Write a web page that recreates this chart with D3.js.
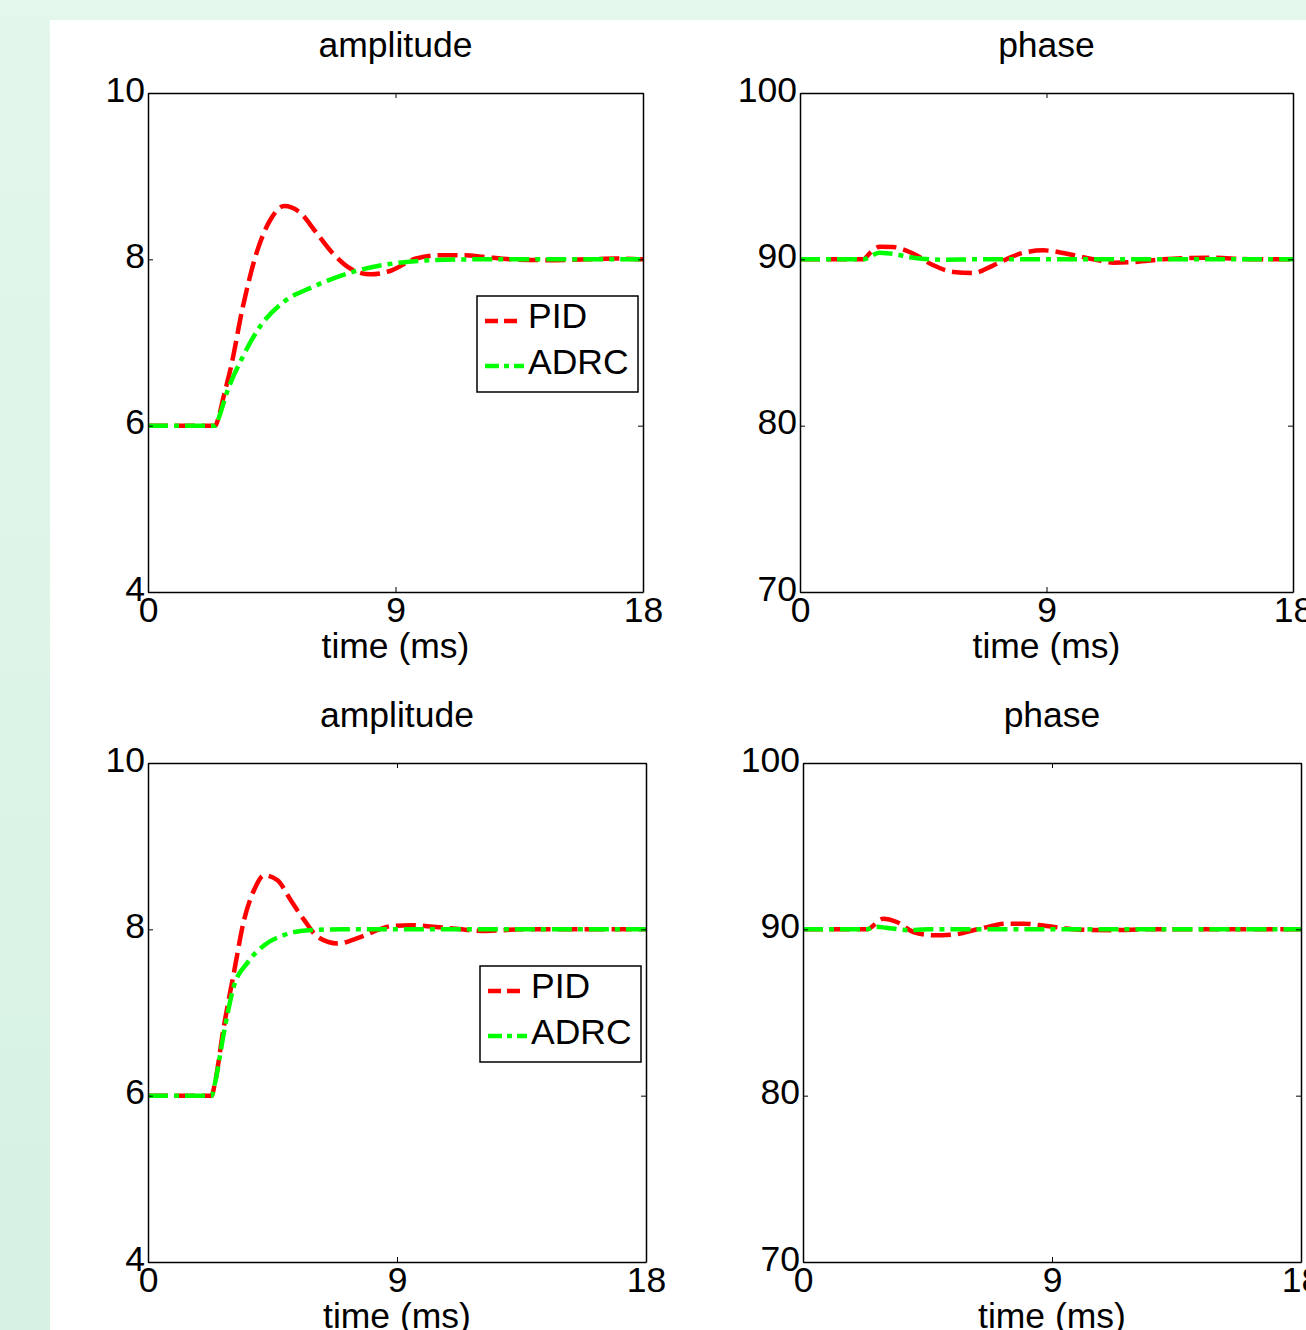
<!DOCTYPE html>
<html>
<head>
<meta charset="utf-8">
<script src="https://cdn.jsdelivr.net/npm/d3@7"></script>
<style>
  body { margin: 0; padding: 0; overflow: hidden; }
  svg { display: block; font-family: "Liberation Sans", Arial, Helvetica, sans-serif; }
</style>
</head>
<body>
<svg width="1306" height="1330"></svg>
<script>
// time samples (ms) and values
var ampTimeTop   = [0, 2.45, 2.55, 2.75, 3.0, 3.45, 3.95, 4.44, 4.95, 5.5, 6.1, 6.7, 7.4, 8.1, 8.8, 9.75, 10.7, 11.5, 12.2, 13.2, 14.5, 16, 17, 18];
var ampPidTop    = [6, 6, 6.08, 6.35, 6.68, 7.43, 8.08, 8.47, 8.64, 8.57, 8.33, 8.08, 7.88, 7.82, 7.86, 8.01, 8.05, 8.05, 8.03, 8.0, 7.99, 8.0, 8.01, 8.0];
var ampTimeTopA  = [0, 2.45, 2.6, 2.86, 3.45, 4.07, 4.9, 6.0, 7.45, 9.15, 10.4, 12, 18];
var ampAdrcTop   = [6, 6, 6.12, 6.39, 6.83, 7.19, 7.48, 7.67, 7.85, 7.96, 7.99, 8.0, 8.0];

var phTimeTop    = [0, 2.3, 2.6, 2.92, 3.4, 4.14, 4.87, 5.6, 6.33, 7.06, 8.03, 8.88, 9.74, 10.6, 11.44, 12.2, 13.26, 14.85, 16.6, 18];
var phPidTop     = [90, 90, 90.45, 90.76, 90.74, 90.34, 89.64, 89.24, 89.18, 89.64, 90.34, 90.54, 90.34, 90.04, 89.8, 89.84, 90.0, 90.1, 90.0, 90];
var phTimeTopA   = [0, 2.3, 2.9, 3.3, 4.14, 5.1, 6.5, 18];
var phAdrcTop    = [90, 90, 90.4, 90.35, 90.1, 89.98, 90, 90];

var ampTimeBot   = [0, 2.3, 2.4, 2.74, 3.1, 3.47, 3.83, 4.2, 4.68, 5.16, 5.65, 6.13, 6.86, 7.7, 8.8, 9.5, 10.7, 12.2, 13.5, 18];
var ampPidBot    = [6, 6, 6.12, 6.83, 7.47, 8.11, 8.47, 8.65, 8.59, 8.35, 8.11, 7.91, 7.83, 7.91, 8.04, 8.05, 8.02, 7.98, 8.0, 8.0];
var ampTimeBotA  = [0, 2.3, 2.42, 2.74, 3.1, 3.6, 4.2, 4.9, 5.8, 7, 18];
var ampAdrcBot   = [6, 6, 6.15, 6.75, 7.31, 7.6, 7.81, 7.93, 7.99, 8.0, 8.0];

var phTimeBot    = [0, 2.3, 2.9, 3.39, 3.99, 4.72, 5.43, 6.4, 7.37, 7.96, 8.8, 10.0, 11.2, 12.5, 18];
var phPidBot     = [90, 90, 90.64, 90.44, 89.84, 89.64, 89.68, 90.04, 90.34, 90.34, 90.2, 89.98, 89.95, 90, 90];
var phTimeBotA   = [0, 2.3, 2.6, 3.0, 3.8, 4.5, 18];
var phAdrcBot    = [90, 90, 90.15, 90.1, 89.95, 90, 90];

var xTicks = [0, 9, 18];
var ampTicks = [4, 6, 8, 10];
var phTicks = [70, 80, 90, 100];
var seriesNames = ["PID", "ADRC"];

var svg = d3.select("svg");

// background
var grad = svg.append("defs").append("linearGradient")
  .attr("id", "bg").attr("x1", 0).attr("y1", 0).attr("x2", 0).attr("y2", 1);
grad.append("stop").attr("offset", "0%").attr("stop-color", "#e4f7ed");
grad.append("stop").attr("offset", "100%").attr("stop-color", "#d5f1e1");
svg.append("rect").attr("width", 1306).attr("height", 1330).attr("fill", "url(#bg)");
svg.append("rect").attr("x", 50).attr("y", 20).attr("width", 1256).attr("height", 1310).attr("fill", "#fff");

var panels = [
  {left: 148, top: 93,  right: 643,  bottom: 592,  title: "amplitude", dom: [4, 10],   ticks: ampTicks, legend: true,
   t1: ampTimeTop, v1: ampPidTop, t2: ampTimeTopA, v2: ampAdrcTop},
  {left: 800, top: 93,  right: 1293, bottom: 592,  title: "phase",     dom: [70, 100], ticks: phTicks,  legend: false,
   t1: phTimeTop, v1: phPidTop, t2: phTimeTopA, v2: phAdrcTop},
  {left: 148, top: 763, right: 646,  bottom: 1262, title: "amplitude", dom: [4, 10],   ticks: ampTicks, legend: true,
   t1: ampTimeBot, v1: ampPidBot, t2: ampTimeBotA, v2: ampAdrcBot},
  {left: 803, top: 763, right: 1301, bottom: 1262, title: "phase",     dom: [70, 100], ticks: phTicks,  legend: false,
   t1: phTimeBot, v1: phPidBot, t2: phTimeBotA, v2: phAdrcBot}
];

var fs = 35.5;
var red = "#ff0000", green = "#00ff00";
var redDash = "20,7", greenDash = "20,6,5,6";

panels.forEach(function(p) {
  var w = p.right - p.left, h = p.bottom - p.top;
  var g = svg.append("g").attr("transform", "translate(" + p.left + "," + p.top + ")");

  var x = d3.scaleLinear().domain([0, 18]).range([0, w]);
  var y = d3.scaleLinear().domain(p.dom).range([h, 0]);

  // curves first, frame on top
  var line = d3.line()
    .x(function(d) { return x(d[0]); })
    .y(function(d) { return y(d[1]); })
    .curve(d3.curveMonotoneX);

  g.append("path")
    .datum(d3.zip(p.t1, p.v1))
    .attr("d", line)
    .attr("fill", "none")
    .attr("stroke", red)
    .attr("stroke-width", 4.5)
    .attr("stroke-dasharray", redDash);

  g.append("path")
    .datum(d3.zip(p.t2, p.v2))
    .attr("d", line)
    .attr("fill", "none")
    .attr("stroke", green)
    .attr("stroke-width", 4.5)
    .attr("stroke-dasharray", greenDash);

  // axes with inward ticks
  var xb = g.append("g").attr("transform", "translate(0," + h + ")")
    .call(d3.axisBottom(x).tickValues(xTicks).tickSizeInner(-5).tickSizeOuter(0).tickPadding(5));
  var xt = g.append("g")
    .call(d3.axisTop(x).tickValues(xTicks).tickSizeInner(-5).tickSizeOuter(0).tickFormat(""));
  var yl = g.append("g")
    .call(d3.axisLeft(y).tickValues(p.ticks).tickFormat(d3.format("d")).tickSizeInner(-5).tickSizeOuter(0).tickPadding(3));
  var yr = g.append("g").attr("transform", "translate(" + w + ",0)")
    .call(d3.axisRight(y).tickValues(p.ticks).tickSizeInner(-5).tickSizeOuter(0).tickFormat(""));

  [xb, xt, yl, yr].forEach(function(a) {
    a.select(".domain").attr("stroke", "#000").attr("stroke-width", 1.5);
    a.selectAll(".tick line").attr("stroke", "#000").attr("stroke-width", 1);
    a.attr("font-family", null).attr("font-size", null);
    a.selectAll("text").attr("font-size", fs).attr("fill", "#000");
  });
  yl.selectAll("text").attr("dy", "8px");

  g.append("text")
    .attr("x", w / 2).attr("y", -36)
    .attr("text-anchor", "middle")
    .attr("font-size", fs)
    .text(p.title);

  g.append("text")
    .attr("x", w / 2).attr("y", h + 66)
    .attr("text-anchor", "middle")
    .attr("font-size", fs)
    .text("time (ms)");

  if (p.legend) {
    var lg = g.append("g").attr("transform", "translate(" + (w - 166) + ",203)");
    lg.append("rect")
      .attr("width", 161).attr("height", 96)
      .attr("fill", "#fff").attr("stroke", "#000").attr("stroke-width", 1.5);
    var items = lg.selectAll(".item")
      .data(seriesNames)
      .enter().append("g")
        .attr("transform", function(d, i) { return "translate(0," + (i * 46) + ")"; });
    items.append("line")
      .attr("x1", 8).attr("x2", function(d, i) { return i ? 47 : 42; })
      .attr("y1", function(d, i) { return i ? 24 : 25; })
      .attr("y2", function(d, i) { return i ? 24 : 25; })
      .attr("stroke", function(d, i) { return i ? green : red; })
      .attr("stroke-width", 4.5)
      .attr("stroke-dasharray", function(d, i) { return i ? "14,5,5,5" : "13,6"; });
    items.append("text")
      .attr("x", 51).attr("y", 32)
      .attr("font-size", fs)
      .text(function(d) { return d; });
  }
});
</script>
</body>
</html>
